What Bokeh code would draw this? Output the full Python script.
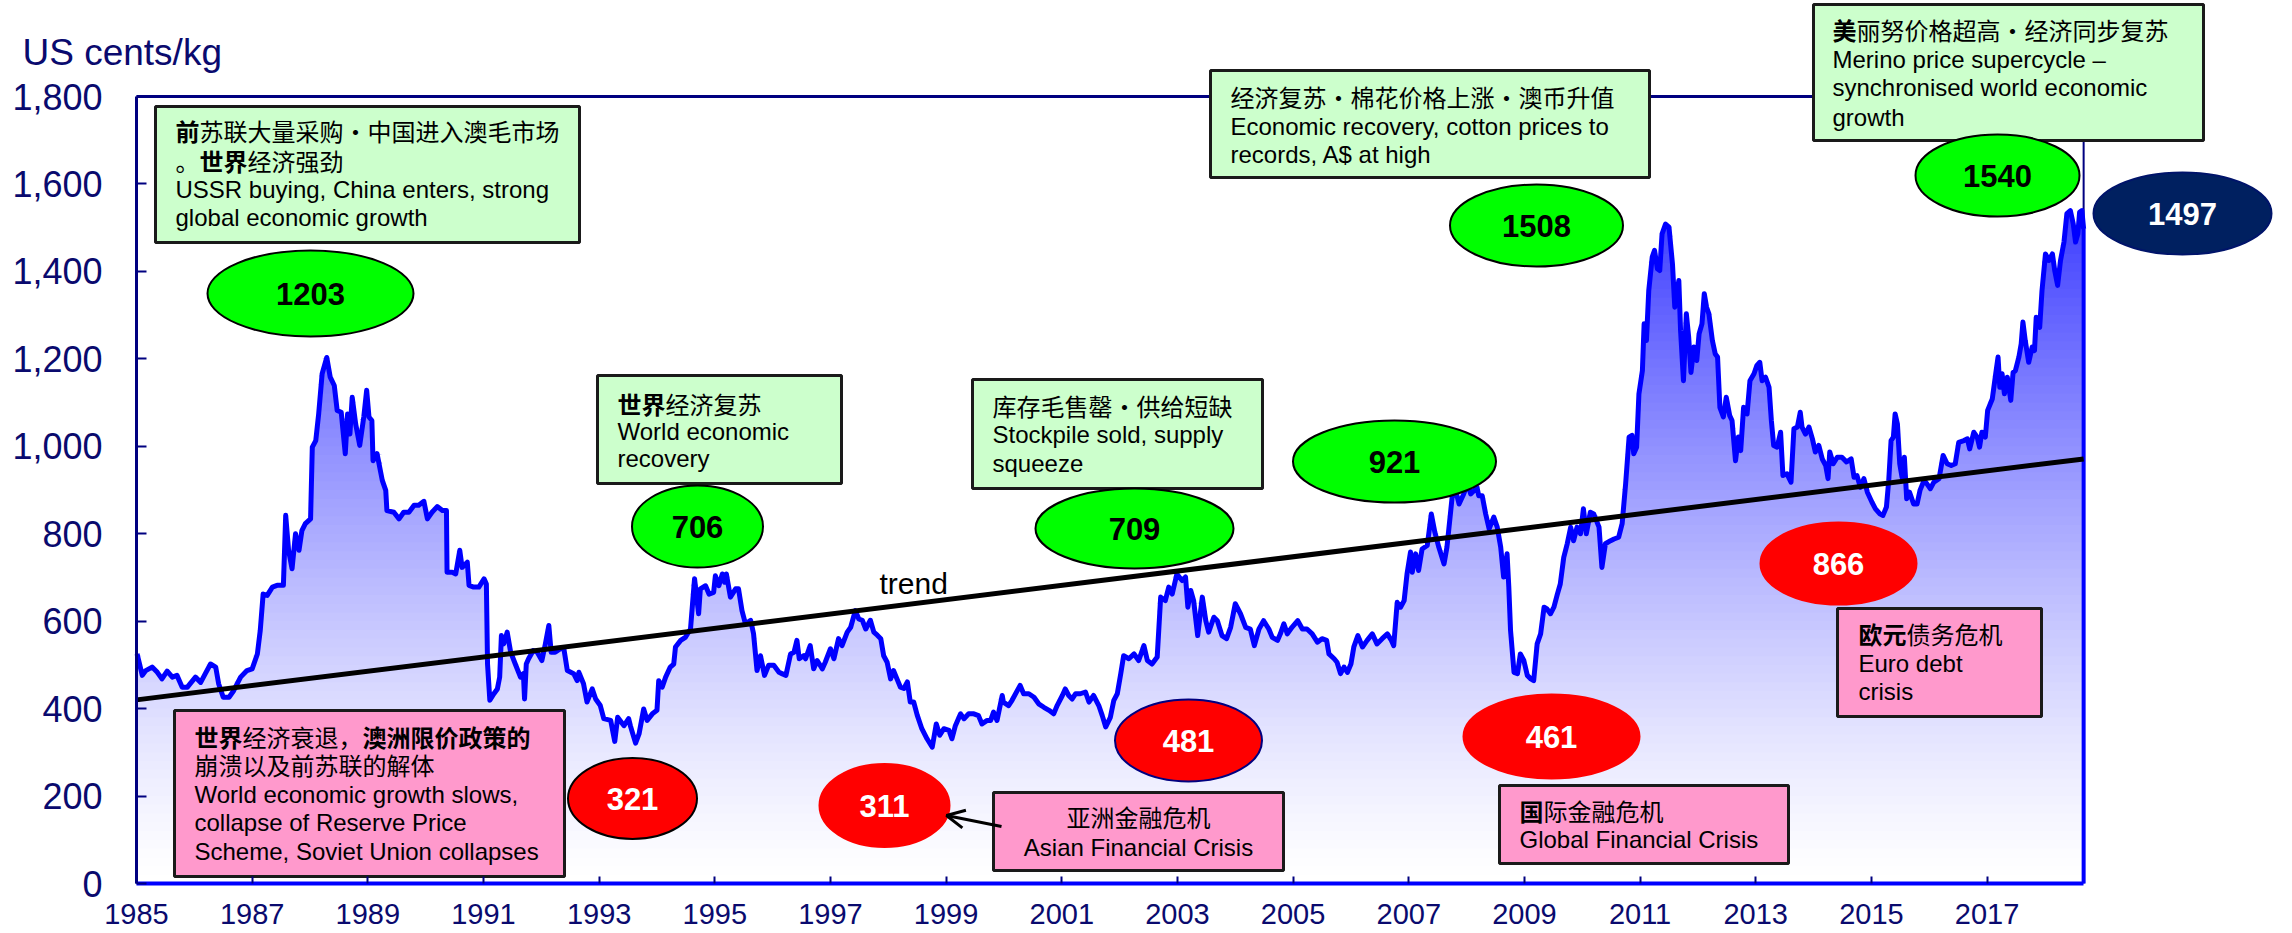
import numpy as np
from bokeh.plotting import figure
from bokeh.models import (Range1d, LinearAxis, FixedTicker, Arrow, OpenHead,
                          ColumnDataSource)
from bokeh.core.properties import value
from bokeh.embed import file_html
from bokeh.resources import INLINE

# ---------------- data ----------------
years = [
 1985.01,1985.10,1985.16,1985.27,1985.36,1985.44,1985.53,1985.62,1985.70,1985.79,1985.88,
 1986.02,1986.11,1986.19,1986.28,1986.37,1986.42,1986.50,1986.60,1986.68,1986.80,1986.91,
 1987.00,1987.09,1987.14,1987.19,1987.26,1987.35,1987.43,1987.54,1987.58,1987.63,1987.69,
 1987.75,1987.81,1987.86,1987.92,1988.01,1988.04,1988.10,1988.15,1988.21,1988.29,1988.35,
 1988.42,1988.47,1988.54,1988.61,1988.65,1988.69,1988.73,1988.79,1988.86,1988.93,1988.98,
 1989.02,1989.07,1989.09,1989.16,1989.25,1989.31,1989.33,1989.45,1989.54,1989.62,1989.71,
 1989.80,1989.88,1989.97,1990.03,1990.11,1990.20,1990.29,1990.36,1990.37,1990.46,1990.52,
 1990.59,1990.63,1990.72,1990.75,1990.83,1990.92,1991.01,1991.05,1991.07,1991.11,1991.18,
 1991.24,1991.28,1991.31,1991.35,1991.41,1991.47,1991.55,1991.64,1991.69,1991.71,1991.74,
 1991.78,1991.86,1991.93,1992.01,1992.07,1992.13,1992.17,1992.24,1992.33,1992.39,1992.45,
 1992.56,1992.62,1992.65,1992.73,1992.79,1992.88,1992.94,1993.02,1993.08,1993.20,1993.27,
 1993.32,1993.43,1993.51,
 1993.54,1993.63,1993.69,1993.77,1993.83,1993.92,1994.00,1994.03,1994.09,1994.15,1994.23,
 1994.29,1994.32,1994.41,1994.49,1994.58,1994.65,1994.72,1994.75,1994.84,1994.90,1994.98,
 1995.01,1995.07,1995.13,1995.17,1995.20,1995.27,1995.36,1995.41,1995.47,1995.53,1995.62,
 1995.67,1995.73,1995.79,1995.86,1995.93,1996.02,1996.11,1996.16,1996.23,1996.31,1996.37,
 1996.42,1996.46,1996.54,1996.57,1996.65,1996.71,1996.77,1996.86,1996.91,1997.00,1997.06,
 1997.14,1997.20,1997.29,1997.35,1997.43,1997.49,1997.55,1997.61,1997.69,1997.75,1997.81,
 1997.87,1997.92,1997.98,1998.04,1998.09,1998.15,1998.21,1998.27,1998.33,1998.38,1998.44,
 1998.50,1998.58,1998.67,1998.76,1998.83,1998.89,1998.96,1999.05,1999.10,1999.16,1999.25,
 1999.31,1999.39,1999.48,1999.56,1999.62,1999.71,1999.77,1999.82,1999.88,1999.97,1999.99,
 2000.08,2000.14,2000.23,2000.28,2000.34,2000.43,2000.52,2000.60,2000.69,2000.78,2000.86,
 2000.92,2001.01,2001.06,2001.12,2001.18,2001.24,2001.32,2001.41,2001.47,2001.55,2001.64,
 2001.70,2001.76,2001.84,2001.90,
 2001.96,2002.02,2002.07,2002.16,2002.25,2002.33,2002.42,2002.48,2002.56,2002.65,2002.71,
 2002.79,2002.85,2002.91,2002.99,2003.08,2003.14,2003.18,2003.23,2003.28,2003.35,2003.43,
 2003.49,2003.54,2003.63,2003.69,2003.77,2003.85,2003.92,2004.00,2004.09,2004.18,2004.26,
 2004.33,2004.41,2004.49,2004.58,2004.64,2004.73,2004.78,2004.84,2004.90,2004.98,2005.08,
 2005.16,2005.24,2005.33,2005.42,2005.50,2005.58,2005.62,2005.71,2005.76,2005.82,2005.88,
 2005.94,2006.00,2006.05,2006.12,2006.20,2006.28,2006.37,2006.45,2006.54,2006.63,2006.70,
 2006.74,2006.80,2006.86,2006.92,2006.97,2007.03,2007.06,2007.12,2007.17,2007.23,2007.32,
 2007.39,2007.45,2007.52,2007.61,2007.66,2007.72,2007.75,2007.81,2007.87,2007.95,2008.02,
 2008.07,2008.13,2008.18,2008.21,2008.27,2008.33,2008.39,2008.47,2008.53,2008.59,2008.64,
 2008.70,2008.73,2008.76,2008.82,2008.88,2008.93,2008.99,2009.05,2009.11,2009.16,2009.22,
 2009.28,2009.34,2009.39,2009.45,2009.51,2009.57,2009.62,2009.68,2009.74,2009.80,2009.85,
 2009.91,2009.97,2010.02,2010.07,2010.14,2010.20,2010.29,2010.34,2010.40,2010.49,
 2010.55,2010.63,2010.69,2010.75,2010.81,2010.86,2010.89,2010.94,2010.98,2011.04,2011.07,
 2011.11,2011.15,2011.21,2011.25,2011.30,2011.34,2011.38,2011.44,2011.50,2011.56,2011.60,
 2011.67,2011.70,2011.75,2011.80,2011.84,2011.88,2011.93,2011.98,2012.02,2012.07,2012.11,
 2012.15,2012.19,2012.25,2012.30,2012.34,2012.38,2012.44,2012.49,2012.55,2012.59,2012.65,
 2012.70,2012.74,2012.79,2012.85,2012.90,2012.97,2013.02,2013.07,2013.11,2013.17,2013.23,
 2013.27,2013.31,2013.37,2013.43,2013.47,2013.54,2013.61,2013.66,2013.72,2013.77,2013.80,
 2013.86,2013.92,2013.98,2014.03,2014.09,2014.15,2014.21,2014.25,2014.28,2014.34,2014.41,
 2014.49,2014.57,2014.65,2014.70,2014.75,2014.81,2014.87,2014.93,2015.01,2015.07,2015.15,
 2015.20,2015.26,2015.30,2015.34,2015.38,2015.41,2015.45,2015.49,2015.53,2015.57,2015.61,
 2015.66,2015.73,2015.79,2015.84,2015.91,2015.96,2016.02,2016.08,2016.17,2016.24,2016.31,
 2016.38,2016.45,2016.51,2016.60,2016.66,2016.70,2016.77,2016.83,2016.87,2016.91,2016.97,
 2017.01,2017.09,2017.15,2017.19,2017.22,2017.26,2017.30,2017.35,2017.41,2017.45,2017.49,
 2017.55,2017.59,2017.62,2017.66,2017.72,2017.78,2017.82,2017.85,2017.91,2017.95,2018.01,
 2018.07,2018.13,2018.17,2018.22,2018.27,2018.33,2018.38,2018.44,2018.49,2018.53,2018.57,
 2018.60,2018.64,2018.67]

price = [
 525,476,487,495,483,468,486,472,476,449,449,
 472,460,480,502,495,457,426,426,441,472,487,
 491,525,579,662,659,678,682,682,842,762,720,
 800,762,807,823,834,998,1013,1074,1166,1203,1158,
 1139,1082,1078,983,1074,1028,1112,1051,1002,1067,1128,
 1067,1059,967,983,922,899,853,849,834,849,849,
 865,865,874,834,849,862,853,853,712,712,708,
 762,723,735,682,678,678,697,685,502,419,434,
 445,472,567,548,575,529,502,472,480,422,502,
 514,533,529,510,548,590,529,529,537,537,487,
 480,464,483,457,415,445,422,407,377,373,325,
 380,361,377,
 361,321,342,399,373,388,396,464,449,472,495,
 502,541,556,563,582,697,617,674,681,662,666,
 704,681,708,689,708,655,674,674,624,594,602,
 571,487,521,476,499,499,483,480,476,525,529,
 556,514,521,514,544,491,510,491,506,537,514,
 560,544,575,586,624,605,602,582,602,575,568,
 560,521,506,468,487,468,449,446,461,415,415,
 385,354,331,312,365,339,354,350,331,361,388,
 377,388,388,384,365,373,373,392,373,430,415,
 407,419,441,453,434,434,426,411,403,396,388,
 407,430,445,430,422,434,434,438,415,430,407,
 384,358,380,419,
 434,480,521,514,525,510,544,510,502,518,655,
 647,678,662,708,693,701,632,670,647,567,655,
 601,575,609,601,567,560,586,640,617,586,582,
 544,582,601,582,563,556,571,594,571,586,601,
 582,582,571,552,560,556,525,514,506,480,495,
 483,502,541,567,541,556,571,548,560,571,556,
 544,643,632,647,708,758,712,754,716,765,773,
 845,804,769,731,769,845,884,899,868,891,915,
 891,899,906,887,887,845,811,838,815,769,701,
 754,678,579,483,480,525,510,476,468,464,548,
 571,632,628,617,632,662,685,746,777,815,784,
 815,800,857,800,849,845,815,723,777,784,
 788,792,823,914,1021,1025,983,998,1120,1173,1280,
 1242,1356,1433,1448,1406,1402,1486,1508,1501,1417,1318,
 1379,1265,1150,1303,1250,1169,1227,1196,1257,1280,1349,
 1318,1303,1242,1211,1204,1089,1067,1112,1070,1059,967,
 1021,990,1089,1074,1150,1166,1185,1192,1150,1158,1135,
 1059,1002,998,1032,933,937,918,1040,1044,1078,1044,
 1028,1044,1017,987,1002,971,956,926,987,960,975,
 975,964,971,929,933,906,926,895,872,857,845,
 842,861,922,1013,1021,1074,1051,960,929,975,880,
 895,868,868,899,922,914,903,918,926,979,960,
 956,960,1009,1013,1017,994,1032,1021,998,1032,1021,
 1082,1108,1166,1204,1135,1166,1120,1158,1105,1169,1173,
 1204,1234,1284,1242,1192,1227,1219,1295,1272,1356,1440,
 1425,1440,1402,1368,1425,1467,1532,1539,1509,1467,1486,
 1535,1539,1497]

trend_years = [1985.0, 2018.67]
trend_values = [420, 971]

y_ticks = [0, 200, 400, 600, 800, 1000, 1200, 1400, 1600, 1800]
y_tick_labels = ["0", "200", "400", "600", "800", "1,000", "1,200", "1,400", "1,600", "1,800"]
x_ticks = list(range(1985, 2018, 2))
x_tick_labels = [str(t) for t in x_ticks]

assert len(years) == len(price)

# ---------------- layout helpers (picture pixels -> data units) ----------------
W, H = 2292, 933
PX_YEAR = 57.83
PX_CENT = 787.0 / 1800.0

def dx(px):           # picture x -> year
    return 1985 + (px - 136) / PX_YEAR

def dy(py):           # picture y -> cents
    return (883 - py) / PX_CENT

NAVY = "#0a0a6e"
SANS = "Liberation Sans"
CJK = "Noto Sans CJK SC"

p = figure(width=W, height=H, output_backend="svg", toolbar_location=None,
           x_range=Range1d(dx(0), dx(W)),
           y_range=Range1d(dy(H), dy(0)),
           x_axis_type=None, y_axis_type=None, min_border=0)
p.outline_line_color = None
p.background_fill_color = "white"
p.border_fill_color = "white"

# axes (fixed at data locations, so the frame covers the whole canvas)
yax = LinearAxis(ticker=FixedTicker(ticks=y_ticks), bounds=(0, 1800), fixed_location=1985)
yax.major_label_overrides = {t: l for t, l in zip(y_ticks, y_tick_labels)}
yax.axis_line_color = "#000080"
yax.axis_line_width = 3
yax.major_tick_in = 10
yax.major_tick_out = 0
yax.major_tick_line_color = "#000080"
yax.major_tick_line_width = 2
yax.minor_tick_line_color = None
yax.major_label_standoff = 34
yax.major_label_text_font = SANS
yax.major_label_text_font_size = "36px"
yax.major_label_text_color = NAVY
p.add_layout(yax, "left")

x_end = years[-1]
xax = LinearAxis(ticker=FixedTicker(ticks=x_ticks), bounds=(1985, x_end), fixed_location=0)
xax.major_label_overrides = {t: l for t, l in zip(x_ticks, x_tick_labels)}
xax.axis_line_color = "#0000ff"
xax.axis_line_width = 4
xax.major_tick_in = 7
xax.major_tick_out = 0
xax.major_tick_line_color = "#000080"
xax.major_tick_line_width = 2
xax.minor_tick_line_color = None
xax.major_label_standoff = 20
xax.major_label_text_font = SANS
xax.major_label_text_font_size = "29px"
xax.major_label_text_color = NAVY
p.add_layout(xax, "below")

# frame top / right border lines
p.line([1985, x_end], [1800, 1800], line_color="#000080", line_width=3)
p.line([x_end, x_end], [0, 1800], line_color="#000080", line_width=2)

# gradient-filled area (layered bands)
xs = np.array(years, dtype=float)
ys = np.array(price, dtype=float)

def band_color(v):
    t = min((v / 1545.0) ** 1.3, 1.0)
    c = int(round(255 - 195 * t))
    return "#%02x%02xff" % (c, c)

for a in range(0, 1560, 20):
    p.varea(x=xs, y1=np.full_like(ys, a), y2=np.maximum(ys, a),
            fill_color=band_color(a + 10), fill_alpha=1.0)

# price line and right edge
p.line(xs, ys, line_color="#0000ff", line_width=5, line_join="round")
p.line([x_end, x_end], [0, ys[-1]], line_color="#0000ff", line_width=4)

# trend
p.line(trend_years, trend_values, line_color="black", line_width=5)
p.text(x=[dx(879)], y=[dy(583)], text=["trend"], text_font=value(SANS),
       text_font_size="30px", text_color="black", text_baseline="alphabetic",
       text_align="left")

# unit label
p.text(x=[dx(22)], y=[dy(52)], text=["US cents/kg"], text_font=value(SANS),
       text_font_size="37px", text_color=NAVY, text_baseline="alphabetic",
       text_align="left")

# annotation boxes: (x0, y0, x1, y1) picture px, fill
boxes = [
    (155, 106, 579, 242, "#ccffcc"),
    (597, 375, 841, 483, "#ccffcc"),
    (972, 379, 1262, 488, "#ccffcc"),
    (1210, 70, 1649, 177, "#ccffcc"),
    (1813, 4, 2203, 140, "#ccffcc"),
    (174, 710, 564, 876, "#ff99cc"),
    (993, 792, 1283, 870, "#ff99cc"),
    (1499, 785, 1788, 863, "#ff99cc"),
    (1837, 608, 2041, 716, "#ff99cc"),
]
p.quad(left=[dx(b[0]) for b in boxes], right=[dx(b[2]) for b in boxes],
       top=[dy(b[1]) for b in boxes], bottom=[dy(b[3]) for b in boxes],
       fill_color=[b[4] for b in boxes], line_color="#1a1a1a", line_width=3)

# text segments: (x_px, y_px, text, is_cjk, bold, offset_px, align)
F = 24
segs = [
    (175, 130, "前", 1, 1, 0, "left"), (175, 130, "苏联大量采购·中国进入澳毛市场", 1, 0, F, "left"),
    (175, 160, "。", 1, 0, 0, "left"), (175, 160, "世界", 1, 1, F, "left"), (175, 160, "经济强劲", 1, 0, 3 * F, "left"),
    (175, 189, "USSR buying, China enters, strong", 0, 0, 0, "left"),
    (175, 217, "global economic growth", 0, 0, 0, "left"),
    (617, 403, "世界", 1, 1, 0, "left"), (617, 403, "经济复苏", 1, 0, 2 * F, "left"),
    (617, 431, "World economic", 0, 0, 0, "left"),
    (617, 458, "recovery", 0, 0, 0, "left"),
    (992, 405, "库存毛售罄·供给短缺", 1, 0, 0, "left"),
    (992, 434, "Stockpile sold, supply", 0, 0, 0, "left"),
    (992, 463, "squeeze", 0, 0, 0, "left"),
    (1230, 96, "经济复苏·棉花价格上涨·澳币升值", 1, 0, 0, "left"),
    (1230, 126, "Economic recovery, cotton prices to", 0, 0, 0, "left"),
    (1230, 154, "records, A$ at high", 0, 0, 0, "left"),
    (1832, 29, "美", 1, 1, 0, "left"), (1832, 29, "丽努价格超高·经济同步复苏", 1, 0, F, "left"),
    (1832, 59, "Merino price supercycle –", 0, 0, 0, "left"),
    (1832, 87, "synchronised world economic", 0, 0, 0, "left"),
    (1832, 117, "growth", 0, 0, 0, "left"),
    (194, 736, "世界", 1, 1, 0, "left"), (194, 736, "经济衰退，", 1, 0, 2 * F, "left"),
    (194, 736, "澳洲限价政策的", 1, 1, 7 * F, "left"),
    (194, 764, "崩溃以及前苏联的解体", 1, 0, 0, "left"),
    (194, 794, "World economic growth slows,", 0, 0, 0, "left"),
    (194, 822, "collapse of Reserve Price", 0, 0, 0, "left"),
    (194, 851, "Scheme, Soviet Union collapses", 0, 0, 0, "left"),
    (1138, 816, "亚洲金融危机", 1, 0, 0, "center"),
    (1138, 847, "Asian Financial Crisis", 0, 0, 0, "center"),
    (1519, 810, "国", 1, 1, 0, "left"), (1519, 810, "际金融危机", 1, 0, F, "left"),
    (1519, 839, "Global Financial Crisis", 0, 0, 0, "left"),
    (1858, 633, "欧元", 1, 1, 0, "left"), (1858, 633, "债务危机", 1, 0, 2 * F, "left"),
    (1858, 663, "Euro debt", 0, 0, 0, "left"),
    (1858, 691, "crisis", 0, 0, 0, "left"),
]
for cjk in (0, 1):
    for bold in (0, 1):
        for align in ("left", "center"):
            sel = [s for s in segs if s[3] == cjk and s[4] == bold and s[6] == align]
            if not sel:
                continue
            src = ColumnDataSource(dict(x=[dx(s[0]) for s in sel], y=[dy(s[1]) for s in sel],
                                        t=[s[2] for s in sel], off=[s[5] for s in sel]))
            p.text(x="x", y="y", text="t", x_offset="off", source=src,
                   text_font=value(CJK if cjk else SANS), text_font_size="%dpx" % F,
                   text_font_style="bold" if bold else "normal", text_color="black",
                   text_align=align, text_baseline="middle")

# arrow from Asian crisis box to 311
p.add_layout(Arrow(end=OpenHead(size=18, line_width=3, line_color="black"),
                   x_start=dx(1001), y_start=dy(826), x_end=dx(946), y_end=dy(815),
                   line_width=3, line_color="black"))

# ellipses: (cx, cy, w, h, fill, line, label, text color)
ells = [
    (310, 293, 206, 86, "#00ff00", "black", "1203", "black"),
    (697, 526, 131, 82, "#00ff00", "black", "706", "black"),
    (1134, 528, 198, 80, "#00ff00", "black", "709", "black"),
    (1394, 461, 203, 82, "#00ff00", "black", "921", "black"),
    (1536, 225, 173, 82, "#00ff00", "black", "1508", "black"),
    (1997, 175, 164, 82, "#00ff00", "black", "1540", "black"),
    (2182, 213, 178, 82, "#002060", "#00146a", "1497", "white"),
    (632, 798, 129, 81, "#ff0000", "black", "321", "white"),
    (884, 805, 130, 83, "#ff0000", "#ff0000", "311", "white"),
    (1188, 740, 147, 82, "#ff0000", "#000080", "481", "white"),
    (1551, 736, 176, 84, "#ff0000", "#ff0000", "461", "white"),
    (1838, 563, 156, 82, "#ff0000", "#ff0000", "866", "white"),
]
esrc = ColumnDataSource(dict(x=[dx(e[0]) for e in ells], y=[dy(e[1]) for e in ells],
                             w=[e[2] for e in ells], h=[e[3] for e in ells],
                             fc=[e[4] for e in ells], lc=[e[5] for e in ells],
                             t=[e[6] for e in ells], tc=[e[7] for e in ells]))
p.ellipse(x="x", y="y", width="w", height="h", width_units="screen", height_units="screen",
          fill_color="fc", line_color="lc", line_width=2, source=esrc)
p.text(x="x", y="y", text="t", text_color="tc", source=esrc, text_font=value(SANS),
       text_font_size="31px", text_font_style="bold", text_align="center",
       text_baseline="middle")

open("out.html", "w").write(file_html(p, INLINE))
